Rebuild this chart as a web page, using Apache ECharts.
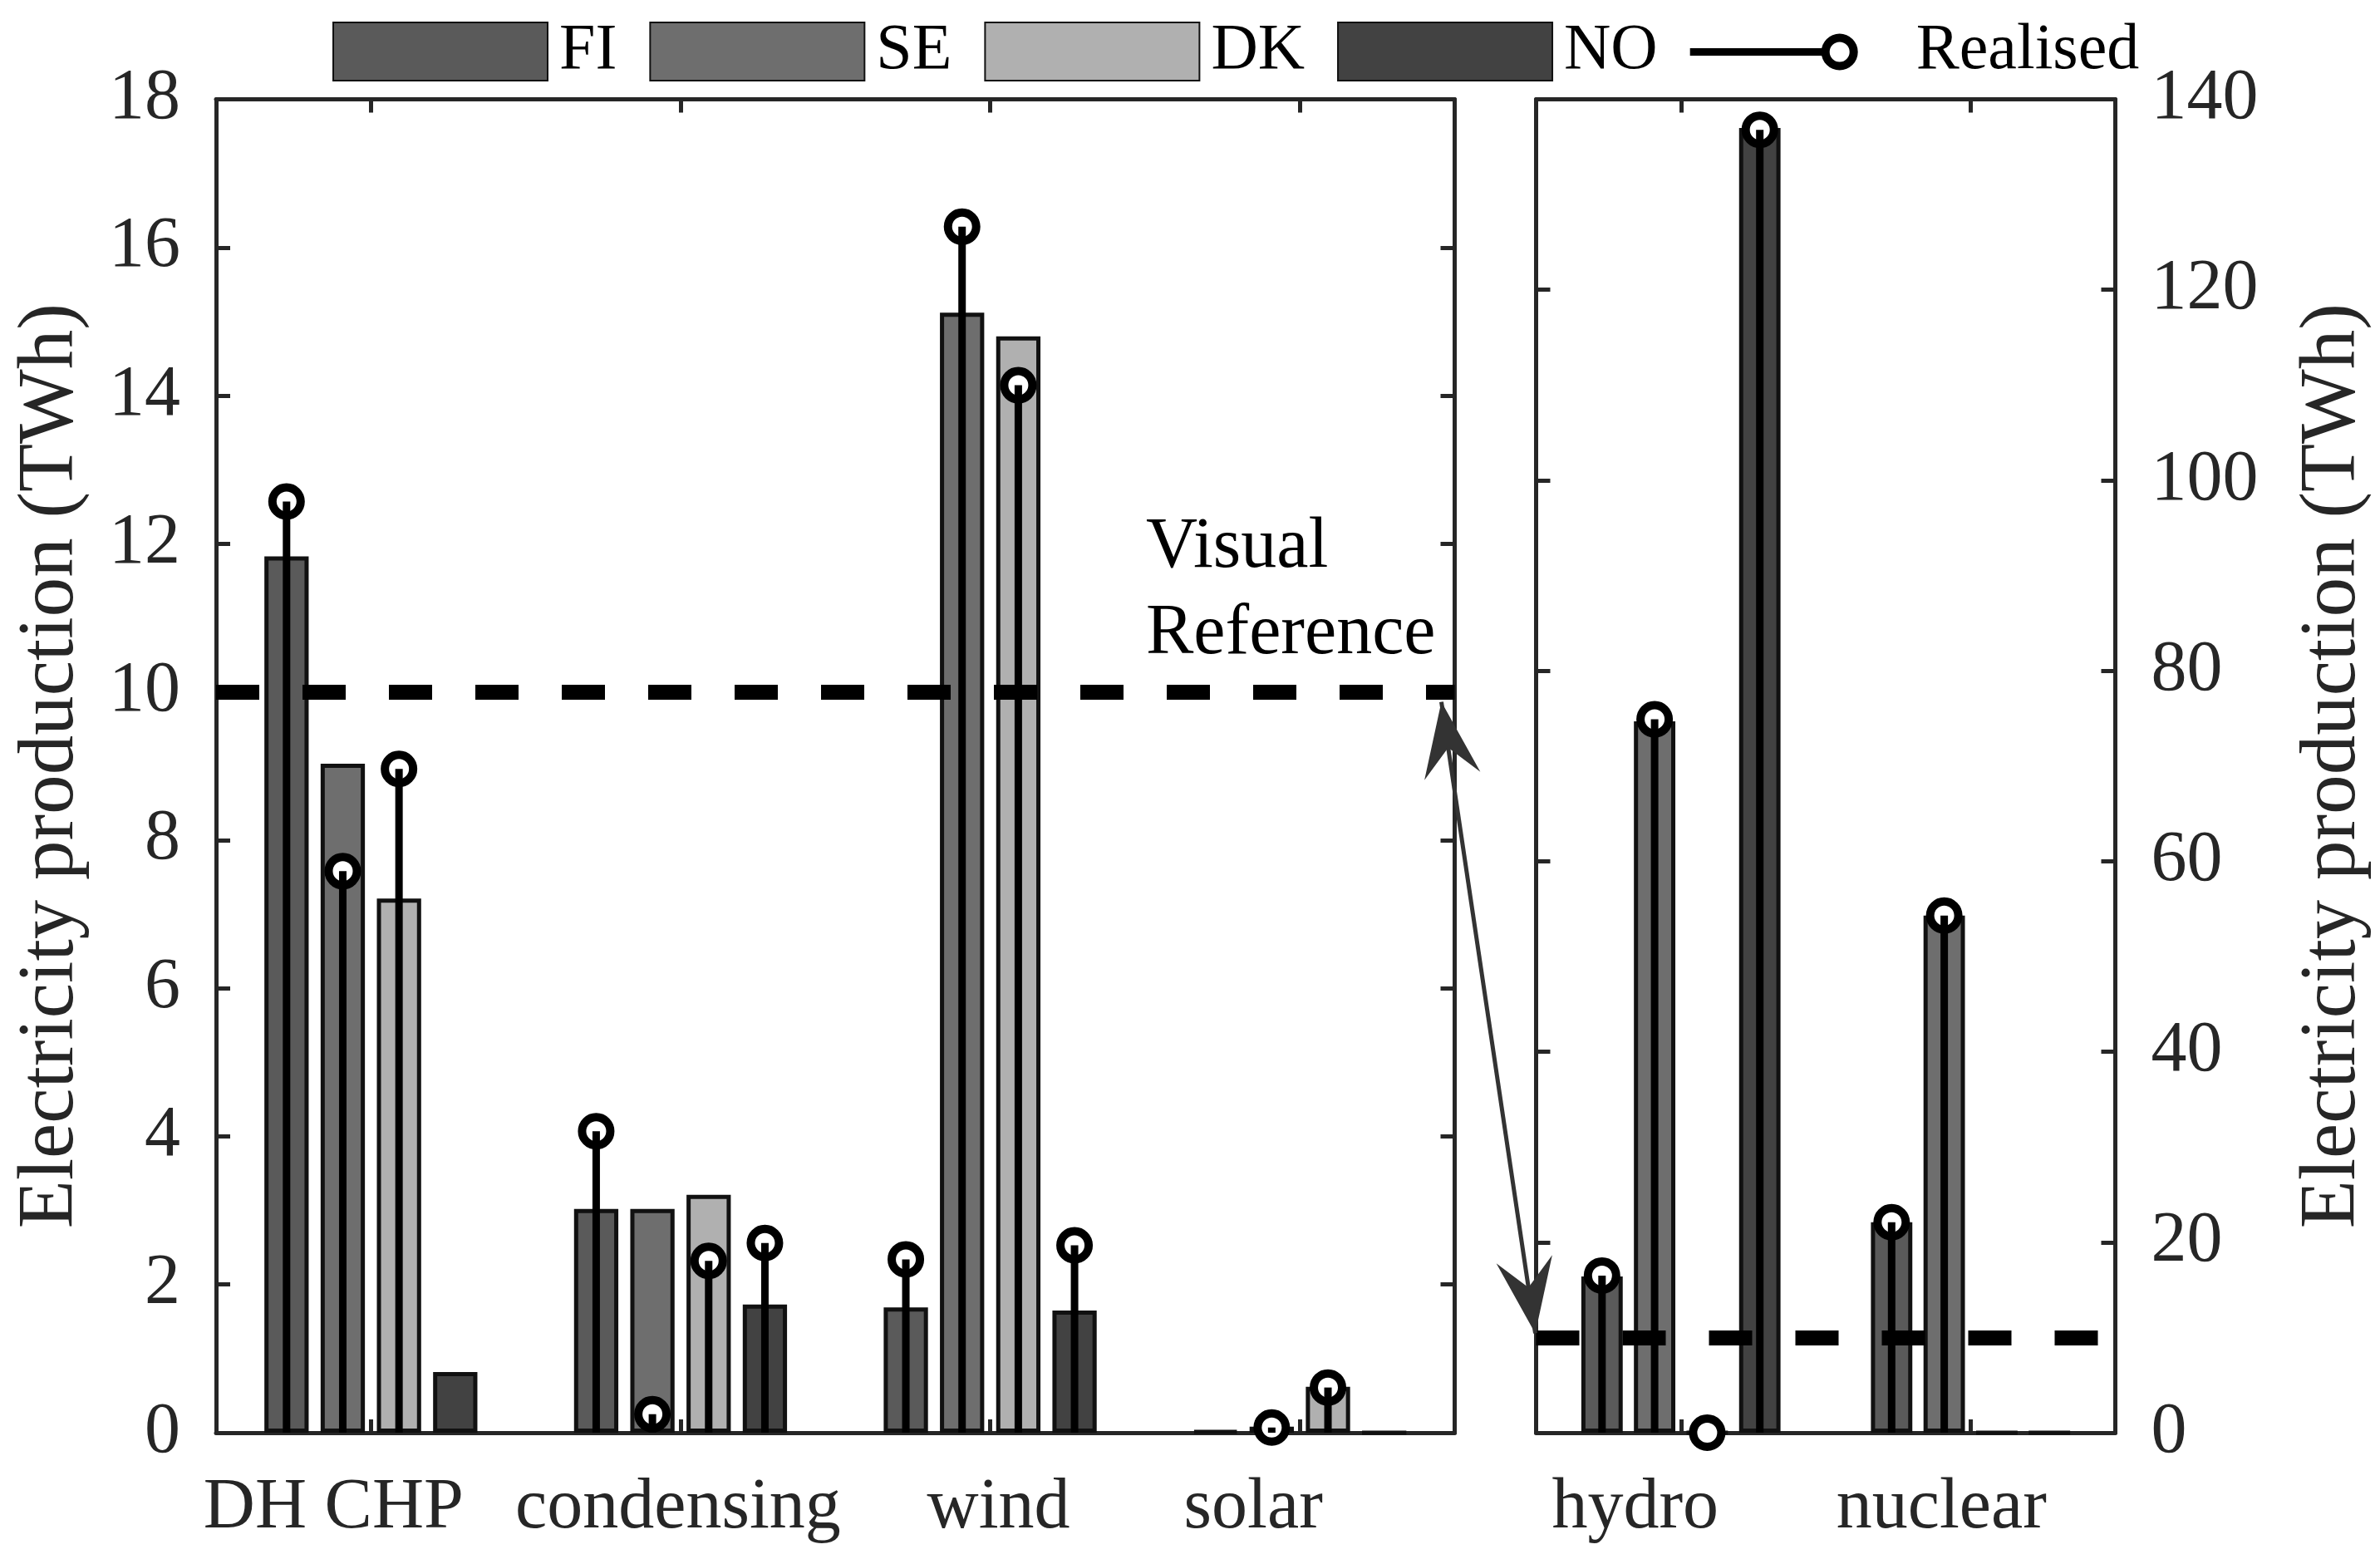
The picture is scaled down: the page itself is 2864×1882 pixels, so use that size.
<!DOCTYPE html>
<html><head><meta charset="utf-8">
<script src="https://cdn.jsdelivr.net/npm/echarts@6/dist/echarts.min.js"></script>
<style>html,body{margin:0;padding:0;background:#fff}#c{width:2864px;height:1882px}</style>
</head><body><div id="c"></div>
<script>
// ---------------- DATA ----------------
const leftCategories = ['DH CHP', 'condensing', 'wind', 'solar'];
const rightCategories = ['hydro', 'nuclear'];
const countries = ['FI', 'SE', 'DK', 'NO'];

// modelled electricity production (TWh), left panel
const fiLeft = [11.83, 3.02, 1.69, 0.02];
const seLeft = [9.03, 3.02, 15.12, 0.08];
const dkLeft = [7.21, 3.21, 14.80, 0.62];
const noLeft = [0.82, 1.73, 1.65, 0];
// realised, left panel
const fiLeftRealised = [12.57, 4.07, 2.34, null];
const seLeftRealised = [7.58, 0.25, 16.28, 0.07];
const dkLeftRealised = [8.96, 2.32, 14.14, 0.61];
const noLeftRealised = [null, 2.56, 2.53, null];

// modelled, right panel
const fiRight = [16.4, 22.1];
const seRight = [74.7, 54.3];
const dkRight = [0, 0];
const noRight = [137.0, 0];
// realised, right panel
const fiRightRealised = [16.5, 22.1];
const seRightRealised = [74.9, 54.3];
const dkRightRealised = [0, null];
const noRightRealised = [136.8, null];

const leftTickLabels = [0, 2, 4, 6, 8, 10, 12, 14, 16, 18];
const rightTickLabels = [0, 20, 40, 60, 80, 100, 120, 140];
const referenceLevel = 10;

// ---------------- STYLE ----------------
const FONT = '"Liberation Serif", "Times New Roman", serif';
const AX = '#262626';
const countryColors = ['#5a5a5a', '#6e6e6e', '#b0b0b0', '#424242'];
const BAR_W = 0.143, BAR_GAP = 0.27;
const leftLabelShift = [-45, -3, 10, -56];
const rightLabelShift = [-55, -35];
const G0 = {left: 260, top: 119.5, width: 1490.5, height: 1604.5};
const G1 = {left: 1848.5, top: 119.5, width: 697, height: 1604.5};

const leftBars = [fiLeft, seLeft, dkLeft, noLeft];
const rightBars = [fiRight, seRight, dkRight, noRight];
const leftReal = [fiLeftRealised, seLeftRealised, dkLeftRealised, noLeftRealised];
const rightReal = [fiRightRealised, seRightRealised, dkRightRealised, noRightRealised];

function realisedItems(lists) {
  const out = [];
  lists.forEach((arr, k) => arr.forEach((v, c) => { if (v !== null) out.push([c, k, v]); }));
  return out;
}
function realisedRender(params, api) {
  const cat = api.value(0), k = api.value(1), v = api.value(2);
  const cw = api.size([1, 0])[0];
  const dx = (k - (countries.length - 1) / 2) * cw * BAR_W * (1 + BAR_GAP);
  const p0 = api.coord([cat, 0]);
  const p1 = api.coord([cat, v]);
  const x = p0[0] + dx;
  return {type: 'group', children: [
    {type: 'circle', shape: {cx: x, cy: p1[1], r: 17}, style: {fill: '#fff', stroke: '#000', lineWidth: 10}},
    {type: 'line', shape: {x1: x, y1: p0[1], x2: x, y2: p1[1]}, style: {stroke: '#000', lineWidth: 9, lineCap: 'butt'}}
  ]};
}
function richFor(shifts) {
  const r = {};
  shifts.forEach((s, i) => {
    r['c' + i] = {fontFamily: FONT, fontSize: 86, color: AX,
      padding: s < 0 ? [0, -2 * s, 0, 0] : [0, 0, 0, 2 * s]};
  });
  return r;
}
function catAxis(grid, cats, pos, shifts) {
  const a = {type: 'category', gridIndex: grid, data: cats, position: pos,
    axisLine: {show: true, onZero: false, lineStyle: {color: AX, width: 5}},
    axisTick: {show: true, inside: true, alignWithLabel: true, length: 16, lineStyle: {color: AX, width: 5}},
    splitLine: {show: false}};
  if (shifts) {
    a.axisLabel = {show: true, margin: 48, formatter: (v, i) => '{c' + i + '|' + v + '}', rich: richFor(shifts)};
  } else a.axisLabel = {show: false};
  return a;
}
function valAxis(grid, ticks, pos, labels, name, gap) {
  const a = {type: 'value', gridIndex: grid, position: pos,
    min: ticks[0], max: ticks[ticks.length - 1], interval: ticks[1] - ticks[0],
    axisLine: {show: true, lineStyle: {color: AX, width: 5}},
    axisTick: {show: true, inside: true, length: 17, lineStyle: {color: AX, width: 5}},
    splitLine: {show: false},
    axisLabel: {show: labels, margin: 43, fontFamily: FONT, fontSize: 86, color: AX}};
  if (name) {
    Object.assign(a, {name: name, nameLocation: 'middle', nameRotate: 90, nameGap: gap,
      nameTextStyle: {fontFamily: FONT, fontSize: 95, color: AX}});
  }
  return a;
}

const series = [];
countries.forEach((c, k) => {
  [[leftBars, 0], [rightBars, 1]].forEach(([bars, g]) => {
    const s = {name: c, type: 'bar', xAxisIndex: g * 2, yAxisIndex: g * 2,
      data: bars[k], barWidth: (BAR_W * 100) + '%', barGap: (BAR_GAP * 100) + '%',
      itemStyle: {color: countryColors[k], borderColor: '#111', borderWidth: 5},
      emphasis: {disabled: true}, z: 2};
    if (k === 0) {
      s.markLine = {silent: true, symbol: 'none', z: 5, label: {show: false},
        lineStyle: {type: [52, 52], width: 18, color: '#000'},
        data: [{yAxis: referenceLevel}]};
    }
    series.push(s);
  });
});
series.push({name: 'Realised', type: 'custom', xAxisIndex: 0, yAxisIndex: 0, z: 6,
  itemStyle: {color: '#000'}, encode: {x: 0, y: 2}, renderItem: realisedRender, data: realisedItems(leftReal)});
series.push({name: 'Realised', type: 'custom', xAxisIndex: 2, yAxisIndex: 2, z: 6,
  itemStyle: {color: '#000'}, encode: {x: 0, y: 2}, renderItem: realisedRender, data: realisedItems(rightReal)});

const REALISED_ICON = 'path://M0,0 M258,70 M0,31 L162,31 L162,40 L0,40 Z ' +
  'M180,13.5 A22,22 0 1,1 180,57.5 A22,22 0 1,1 180,13.5 Z ' +
  'M180,23.5 A12,12 0 1,0 180,47.5 A12,12 0 1,0 180,23.5 Z';

const chart = echarts.init(document.getElementById('c'), null, {renderer: 'canvas'});
chart.setOption({
  animation: false,
  backgroundColor: '#fff',
  grid: [G0, G1],
  legend: {left: 395, top: 18, itemWidth: 258, itemHeight: 70, itemGap: 39,
    textStyle: {fontFamily: FONT, fontSize: 78, color: '#000', padding: [0, 0, 0, 9]},
    selectedMode: false,
    data: countries.map(n => ({name: n, icon: 'rect'})).concat([{name: 'Realised', icon: REALISED_ICON}])},
  xAxis: [
    catAxis(0, leftCategories, 'bottom', leftLabelShift),
    catAxis(0, leftCategories, 'top', null),
    catAxis(1, rightCategories, 'bottom', rightLabelShift),
    catAxis(1, rightCategories, 'top', null)
  ],
  yAxis: [
    valAxis(0, leftTickLabels, 'left', true, 'Electricity production (TWh)', 150),
    valAxis(0, leftTickLabels, 'right', false),
    valAxis(1, rightTickLabels, 'left', false),
    valAxis(1, rightTickLabels, 'right', true, 'Electricity production (TWh)', 215)
  ],
  series: series
});

// annotation: "Visual Reference" and double arrow linking the two reference lines
const r0 = chart.getModel().getComponent('grid', 0).coordinateSystem.getRect();
const r1 = chart.getModel().getComponent('grid', 1).coordinateSystem.getRect();
const yL = chart.convertToPixel({yAxisIndex: 0}, referenceLevel);
const yR = chart.convertToPixel({yAxisIndex: 2}, referenceLevel);
const A = [r0.x + r0.width - 16, yL + 12];
const B = [r1.x - 1, yR - 5];
function head(tip, other) {
  const dx = other[0] - tip[0], dy = other[1] - tip[1];
  const L = Math.hypot(dx, dy), ux = dx / L, uy = dy / L, nx = uy, ny = -ux;
  const hl = 90, hw = 34;
  return [tip, [tip[0] + ux * hl + nx * hw, tip[1] + uy * hl + ny * hw],
    [tip[0] + ux * hl * 0.62, tip[1] + uy * hl * 0.62],
    [tip[0] + ux * hl - nx * hw, tip[1] + uy * hl - ny * hw]];
}
chart.setOption({graphic: [
  {type: 'line', z: 10, shape: {x1: A[0], y1: A[1], x2: B[0], y2: B[1]}, style: {stroke: '#333', lineWidth: 5}},
  {type: 'polygon', z: 10, shape: {points: head(A, B)}, style: {fill: '#333'}},
  {type: 'polygon', z: 10, shape: {points: head(B, A)}, style: {fill: '#333'}},
  {type: 'text', z: 10, style: {text: 'Visual', x: 1379, y: 659, font: '86px ' + FONT, fill: '#000', verticalAlign: 'middle'}},
  {type: 'text', z: 10, style: {text: 'Reference', x: 1379, y: 763, font: '86px ' + FONT, fill: '#000', verticalAlign: 'middle'}}
]});
</script></body></html>
